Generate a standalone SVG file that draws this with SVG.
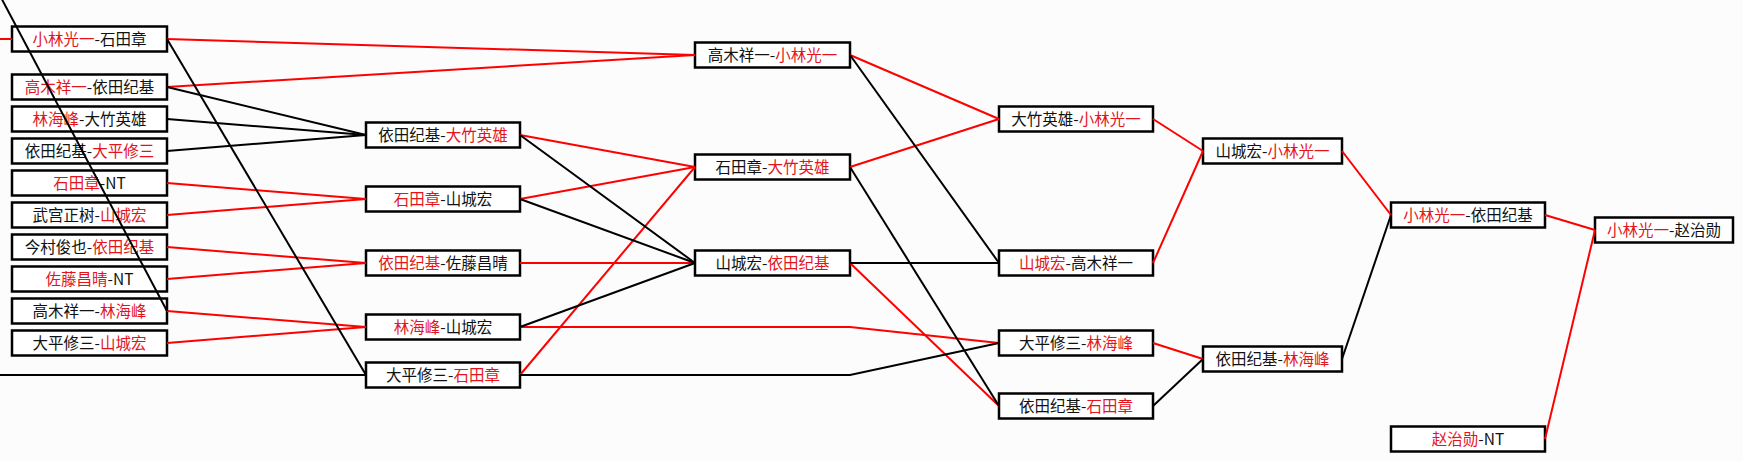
<svg xmlns="http://www.w3.org/2000/svg" width="1743" height="461" viewBox="0 0 1743 461">
<style>
.bg{fill:#fcfcfc}
.box{fill:#ffffff;stroke:#000;stroke-width:2.5}
.t{font-family:"Noto Sans CJK SC","Noto Sans",sans-serif;font-size:15.5px;text-anchor:middle;fill:#111}
.r{fill:#e3141c}
.lr{fill:none;stroke:#ff0000;stroke-width:2}
.lb{fill:none;stroke:#000;stroke-width:2}
</style>
<rect class="bg" x="0" y="0" width="1743" height="461"/>
<g id="nodes">
<g id="c1n1"><rect class="box" x="12" y="26.5" width="155" height="25"/><text class="t" x="89.5" y="44.5"><tspan class="r">小林光一</tspan>-石田章</text></g>
<g id="c1n2"><rect class="box" x="12" y="74.5" width="155" height="25"/><text class="t" x="89.5" y="92.5"><tspan class="r">高木祥一</tspan>-依田纪基</text></g>
<g id="c1n3"><rect class="box" x="12" y="106.5" width="155" height="25"/><text class="t" x="89.5" y="124.5"><tspan class="r">林海峰</tspan>-大竹英雄</text></g>
<g id="c1n4"><rect class="box" x="12" y="138.5" width="155" height="25"/><text class="t" x="89.5" y="156.5">依田纪基-<tspan class="r">大平修三</tspan></text></g>
<g id="c1n5"><rect class="box" x="12" y="170.5" width="155" height="25"/><text class="t" x="89.5" y="188.5"><tspan class="r">石田章</tspan>-NT</text></g>
<g id="c1n6"><rect class="box" x="12" y="202.5" width="155" height="25"/><text class="t" x="89.5" y="220.5">武宫正树-<tspan class="r">山城宏</tspan></text></g>
<g id="c1n7"><rect class="box" x="12" y="234.5" width="155" height="25"/><text class="t" x="89.5" y="252.5">今村俊也-<tspan class="r">依田纪基</tspan></text></g>
<g id="c1n8"><rect class="box" x="12" y="266.5" width="155" height="25"/><text class="t" x="89.5" y="284.5"><tspan class="r">佐藤昌晴</tspan>-NT</text></g>
<g id="c1n9"><rect class="box" x="12" y="298.5" width="155" height="25"/><text class="t" x="89.5" y="316.5">高木祥一-<tspan class="r">林海峰</tspan></text></g>
<g id="c1n10"><rect class="box" x="12" y="330.5" width="155" height="25"/><text class="t" x="89.5" y="348.5">大平修三-<tspan class="r">山城宏</tspan></text></g>

<g id="c2n1"><rect class="box" x="366" y="122.5" width="154" height="25"/><text class="t" x="443" y="140.5">依田纪基-<tspan class="r">大竹英雄</tspan></text></g>
<g id="c2n2"><rect class="box" x="366" y="186.5" width="154" height="25"/><text class="t" x="443" y="204.5"><tspan class="r">石田章</tspan>-山城宏</text></g>
<g id="c2n3"><rect class="box" x="366" y="250.5" width="154" height="25"/><text class="t" x="443" y="268.5"><tspan class="r">依田纪基</tspan>-佐藤昌晴</text></g>
<g id="c2n4"><rect class="box" x="366" y="314.5" width="154" height="25"/><text class="t" x="443" y="332.5"><tspan class="r">林海峰</tspan>-山城宏</text></g>
<g id="c2n5"><rect class="box" x="366" y="362.5" width="154" height="25"/><text class="t" x="443" y="380.5">大平修三-<tspan class="r">石田章</tspan></text></g>

<g id="c3n1"><rect class="box" x="695" y="42.5" width="155" height="25"/><text class="t" x="772.5" y="60.5">高木祥一-<tspan class="r">小林光一</tspan></text></g>
<g id="c3n2"><rect class="box" x="695" y="154.5" width="155" height="25"/><text class="t" x="772.5" y="172.5">石田章-<tspan class="r">大竹英雄</tspan></text></g>
<g id="c3n3"><rect class="box" x="695" y="250.5" width="155" height="25"/><text class="t" x="772.5" y="268.5">山城宏-<tspan class="r">依田纪基</tspan></text></g>

<g id="c4n1"><rect class="box" x="999" y="106.5" width="154" height="25"/><text class="t" x="1076" y="124.5">大竹英雄-<tspan class="r">小林光一</tspan></text></g>
<g id="c4n2"><rect class="box" x="999" y="250.5" width="154" height="25"/><text class="t" x="1076" y="268.5"><tspan class="r">山城宏</tspan>-高木祥一</text></g>
<g id="c4n3"><rect class="box" x="999" y="330.5" width="154" height="25"/><text class="t" x="1076" y="348.5">大平修三-<tspan class="r">林海峰</tspan></text></g>
<g id="c4n4"><rect class="box" x="999" y="393.5" width="154" height="25"/><text class="t" x="1076" y="411.5">依田纪基-<tspan class="r">石田章</tspan></text></g>

<g id="c5n1"><rect class="box" x="1203" y="138.5" width="139" height="25"/><text class="t" x="1272.5" y="156.5">山城宏-<tspan class="r">小林光一</tspan></text></g>
<g id="c5n2"><rect class="box" x="1203" y="346.5" width="139" height="25"/><text class="t" x="1272.5" y="364.5">依田纪基-<tspan class="r">林海峰</tspan></text></g>

<g id="c6n1"><rect class="box" x="1391" y="202.5" width="154" height="25"/><text class="t" x="1468" y="220.5"><tspan class="r">小林光一</tspan>-依田纪基</text></g>
<g id="c6n2"><rect class="box" x="1391" y="426.5" width="154" height="25"/><text class="t" x="1468" y="444.5"><tspan class="r">赵治勋</tspan>-NT</text></g>

<g id="c7n1"><rect class="box" x="1595" y="217.5" width="138" height="25"/><text class="t" x="1664" y="235.5"><tspan class="r">小林光一</tspan>-赵治勋</text></g>
</g>
<g id="connectors">
<path class="lr" d="M0,39H12"/>
<path class="lr" d="M167,39L695,55"/>
<path class="lr" d="M167,87L695,55"/>
<path class="lr" d="M167,183L366,199"/>
<path class="lr" d="M167,215L366,199"/>
<path class="lr" d="M167,247L366,263"/>
<path class="lr" d="M167,279L366,263"/>
<path class="lr" d="M167,311L366,327"/>
<path class="lr" d="M167,343L366,327"/>
<path class="lr" d="M520,135L695,167"/>
<path class="lr" d="M520,199L695,167"/>
<path class="lr" d="M520,263L695,263"/>
<path class="lr" d="M520,375L695,167"/>
<path class="lr" d="M520,327L850,327L999,343"/>
<path class="lr" d="M850,55L999,119"/>
<path class="lr" d="M850,167L999,119"/>
<path class="lr" d="M850,263L999,406"/>
<path class="lr" d="M1153,119L1203,151"/>
<path class="lr" d="M1153,263L1203,151"/>
<path class="lr" d="M1153,343L1203,359"/>
<path class="lr" d="M1342,151L1391,215"/>
<path class="lr" d="M1545,215L1595,230"/>
<path class="lr" d="M1545,439L1595,230"/>
<path class="lb" d="M-3,-10L167,311"/>
<path class="lb" d="M167,39L366,375"/>
<path class="lb" d="M0,375H366"/>
<path class="lb" d="M167,87L366,135"/>
<path class="lb" d="M167,119L366,135"/>
<path class="lb" d="M167,151L366,135"/>
<path class="lb" d="M520,135L695,263"/>
<path class="lb" d="M520,199L695,263"/>
<path class="lb" d="M520,327L695,263"/>
<path class="lb" d="M520,375L850,375L999,343"/>
<path class="lb" d="M850,55L999,263"/>
<path class="lb" d="M850,167L999,406"/>
<path class="lb" d="M850,263L999,263"/>
<path class="lb" d="M1153,406L1203,359"/>
<path class="lb" d="M1342,359L1391,215"/>
</g>
</svg>
